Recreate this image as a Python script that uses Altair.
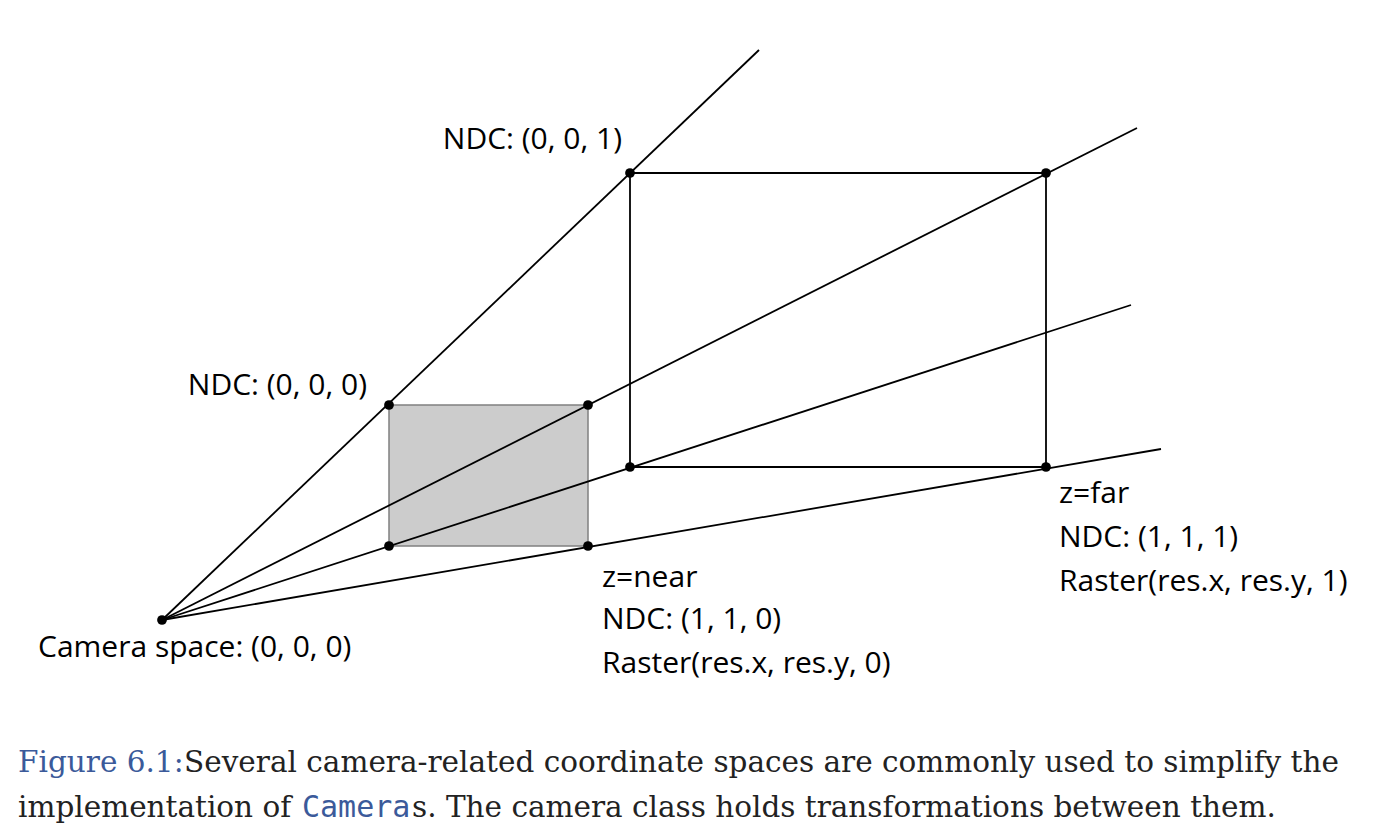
import altair as alt
import pandas as pd

# diagram coordinates (screen-like units, y grows downward)
camera = (162, 620)
ray_ends_x = [759, 1137, 1131, 1161]
ray_ends_y = [50, 128, 305, 449]
near_x = [389, 588]
near_y = [405, 546]
far_x = [630, 1046]
far_y = [173, 467]

label_text = ["NDC: (0, 0, 1)", "NDC: (0, 0, 0)", "Camera space: (0, 0, 0)",
              "z=near", "NDC: (1, 1, 0)", "Raster(res.x, res.y, 0)",
              "z=far", "NDC: (1, 1, 1)", "Raster(res.x, res.y, 1)"]
label_x = [622, 367, 38, 602, 602, 602, 1059, 1059, 1059]
label_y = [140, 386, 648, 578, 620, 664, 494, 538, 582]
label_align = ["right", "right", "left", "left", "left", "left", "left", "left", "left"]

cap_text = ["Figure 6.1:", "Several camera-related coordinate spaces are commonly used to simplify the",
            "implementation of", "Camera", "s. The camera class holds transformations between them."]
cap_x = [18, 184, 18, 302, 412]
cap_y = [763, 763, 808, 808, 808]
cap_kind = ["blue", "black", "black", "mono", "black"]

X = alt.Scale(domain=[8, 1390])
Y = alt.Scale(domain=[8, 832], reverse=True)

rays = pd.DataFrame({"x": [camera[0]] * 4, "y": [camera[1]] * 4,
                     "x2": ray_ends_x, "y2": ray_ends_y})
far_edges = pd.DataFrame({
    "x": [far_x[0], far_x[0], far_x[0], far_x[1]],
    "y": [far_y[0], far_y[1], far_y[0], far_y[0]],
    "x2": [far_x[1], far_x[1], far_x[0], far_x[1]],
    "y2": [far_y[0], far_y[1], far_y[1], far_y[1]],
})
near = pd.DataFrame({"x": [near_x[0]], "x2": [near_x[1]], "y": [near_y[0]], "y2": [near_y[1]]})
pts = pd.DataFrame({
    "x": [camera[0]] + [a for a in near_x for _ in near_y] + [a for a in far_x for _ in far_y],
    "y": [camera[1]] + near_y * 2 + far_y * 2,
})
labels = pd.DataFrame({"t": label_text, "x": label_x, "y": label_y, "a": label_align})
caps = pd.DataFrame({"t": cap_text, "x": cap_x, "y": cap_y, "k": cap_kind})

enc = dict(x=alt.X("x:Q", scale=X, axis=None), y=alt.Y("y:Q", scale=Y, axis=None),
           x2="x2:Q", y2="y2:Q")

rect = alt.Chart(near).mark_rect(fill="#cccccc", stroke="#808080", strokeWidth=1.5).encode(**enc)
ray_lines = alt.Chart(rays).mark_rule(color="black", strokeWidth=1.8).encode(**enc)
far_lines = alt.Chart(far_edges).mark_rule(color="black", strokeWidth=1.8).encode(**enc)
dots = alt.Chart(pts).mark_circle(size=95, color="black", opacity=1).encode(
    x=alt.X("x:Q", scale=X, axis=None), y=alt.Y("y:Q", scale=Y, axis=None))

def label_layer(align):
    return alt.Chart(labels[labels.a == align]).mark_text(
        align=align, baseline="middle", font="Open Sans", fontSize=30, color="black"
    ).encode(x=alt.X("x:Q", scale=X, axis=None), y=alt.Y("y:Q", scale=Y, axis=None), text="t:N")

def cap_layer(kind, color, font, size):
    return alt.Chart(caps[caps.k == kind]).mark_text(
        align="left", baseline="middle", font=font, fontSize=size, color=color
    ).encode(x=alt.X("x:Q", scale=X, axis=None), y=alt.Y("y:Q", scale=Y, axis=None), text="t:N")

chart = alt.layer(
    rect, ray_lines, far_lines, dots,
    label_layer("left"), label_layer("right"),
    cap_layer("blue", "#3b5a9a", "DejaVu Serif", 29.5),
    cap_layer("black", "#222222", "DejaVu Serif", 29.5),
    cap_layer("mono", "#3b5a9a", "DejaVu Sans Mono", 30),
).properties(width=1382, height=824, padding=0, autosize="none").configure_view(stroke=None)

chart.save("out.html", embed_options={"renderer": "svg", "actions": False})
